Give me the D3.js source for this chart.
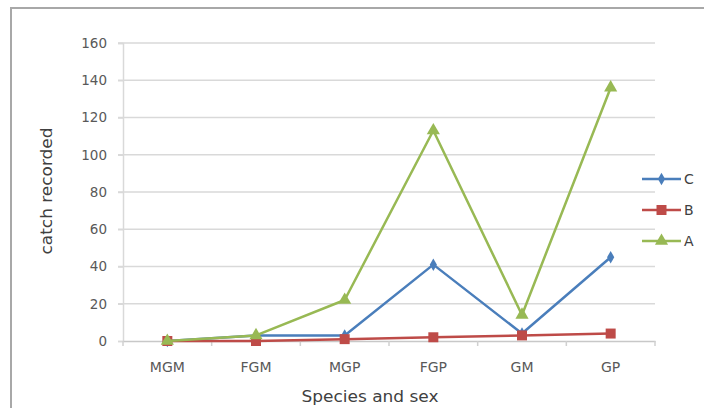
<!DOCTYPE html>
<html>
<head>
<meta charset="utf-8">
<script src="https://cdn.jsdelivr.net/npm/d3@7/dist/d3.min.js"></script>
<style>
  html, body { margin: 0; padding: 0; background: #ffffff; }
  svg { display: block; }
  text { font-family: "DejaVu Sans", sans-serif; }
</style>
</head>
<body>
<script>
// Catch recorded per species/sex group, three sites
const categories = ["MGM", "FGM", "MGP", "FGP", "GM", "GP"];
const seriesNames = ["C", "B", "A"];
const valuesC = [0, 3, 3, 41, 4, 45];
const valuesB = [0, 0, 1, 2, 3, 4];
const valuesA = [0, 3, 22, 113, 14, 136];
const yTicks = [0, 20, 40, 60, 80, 100, 120, 140, 160];

const W = 704, H = 408;
const plot = { left: 123, right: 655, top: 43, bottom: 341 };

const svg = d3.select("body").append("svg")
  .attr("width", W).attr("height", H);

// chart frame
svg.append("path")
  .attr("d", `M11,${H} L11,8 L${W},8`)
  .attr("fill", "none").attr("stroke", "#a8a8a8").attr("stroke-width", 2);

const x = d3.scaleBand().domain(categories).range([plot.left, plot.right]);
const y = d3.scaleLinear().domain([0, 160]).range([plot.bottom, plot.top]);

// gridlines
svg.append("g").selectAll("line").data(yTicks.filter(d => d > 0)).join("line")
  .attr("x1", plot.left - 5).attr("x2", plot.right)
  .attr("y1", d => y(d)).attr("y2", d => y(d))
  .attr("stroke", "#d9d9d9").attr("stroke-width", 1.5);

// y axis
const yAxis = svg.append("g").attr("transform", `translate(${plot.left},0)`)
  .call(d3.axisLeft(y).tickValues(yTicks).tickSize(5).tickPadding(11));
yAxis.select(".domain").attr("stroke", "#d9d9d9").attr("stroke-width", 1.5);
yAxis.selectAll(".tick line").attr("stroke", "#d9d9d9").attr("stroke-width", 1.5);
yAxis.selectAll("text").attr("fill", "#595959").style("font-size", "13.5px")
  .style("font-family", "DejaVu Sans, sans-serif");

// x axis with tick marks at category boundaries
const xAxis = svg.append("g").attr("transform", `translate(0,${plot.bottom})`)
  .call(d3.axisBottom(x).tickSize(0).tickPadding(21));
xAxis.select(".domain").attr("stroke", "#c8c8c8").attr("stroke-width", 1.5);
xAxis.selectAll("text").attr("fill", "#595959").style("font-size", "14px")
  .style("font-family", "DejaVu Sans, sans-serif");
svg.append("g").selectAll("line")
  .data(categories.concat([null]))
  .join("line")
  .attr("x1", (d, i) => plot.left + i * x.bandwidth())
  .attr("x2", (d, i) => plot.left + i * x.bandwidth())
  .attr("y1", plot.bottom).attr("y2", plot.bottom + 5)
  .attr("stroke", "#d0d0d0").attr("stroke-width", 1.5);

// axis titles
svg.append("text")
  .attr("transform", `translate(52,191) rotate(-90)`)
  .attr("text-anchor", "middle")
  .attr("fill", "#404040").style("font-size", "15.5px")
  .attr("textLength", 127).attr("lengthAdjust", "spacingAndGlyphs")
  .text("catch recorded");
svg.append("text")
  .attr("x", 370).attr("y", 402)
  .attr("text-anchor", "middle")
  .attr("fill", "#404040").style("font-size", "16px")
  .attr("textLength", 137).attr("lengthAdjust", "spacingAndGlyphs")
  .text("Species and sex");

const series = [
  { name: "C", values: valuesC, color: "#4a7ebb", marker: "diamond" },
  { name: "B", values: valuesB, color: "#be4b48", marker: "square" },
  { name: "A", values: valuesA, color: "#98b954", marker: "triangle" }
];

const symbolFor = {
  diamond: d3.symbol().type(d3.symbolDiamond).size(45),
  square: d3.symbol().type(d3.symbolSquare).size(100),
  triangle: d3.symbol().type(d3.symbolTriangle).size(75)
};

const cx = c => x(c) + x.bandwidth() / 2;
const line = d3.line().x(d => cx(d.c)).y(d => y(d.v));

series.forEach(s => {
  const pts = categories.map((c, i) => ({ c, v: s.values[i] }));
  const g = svg.append("g");
  g.append("path").datum(pts)
    .attr("d", line).attr("fill", "none")
    .attr("stroke", s.color).attr("stroke-width", 2.5)
    .attr("stroke-linejoin", "round");
  g.selectAll("path.m").data(pts).join("path").attr("class", "m")
    .attr("d", symbolFor[s.marker])
    .attr("transform", d => `translate(${cx(d.c)},${y(d.v)})`)
    .attr("fill", s.color);
});

// legend
const legendY = { C: 179, B: 210, A: 241 };
series.forEach(s => {
  const ly = legendY[s.name];
  const g = svg.append("g");
  g.append("line").attr("x1", 642).attr("x2", 681)
    .attr("y1", ly).attr("y2", ly)
    .attr("stroke", s.color).attr("stroke-width", 2.5);
  g.append("path").attr("d", symbolFor[s.marker])
    .attr("transform", `translate(661.5,${ly})`).attr("fill", s.color);
  g.append("text").attr("x", 684).attr("y", ly + 5)
    .attr("fill", "#404040").style("font-size", "14px")
    .text(s.name);
});
</script>
</body>
</html>
